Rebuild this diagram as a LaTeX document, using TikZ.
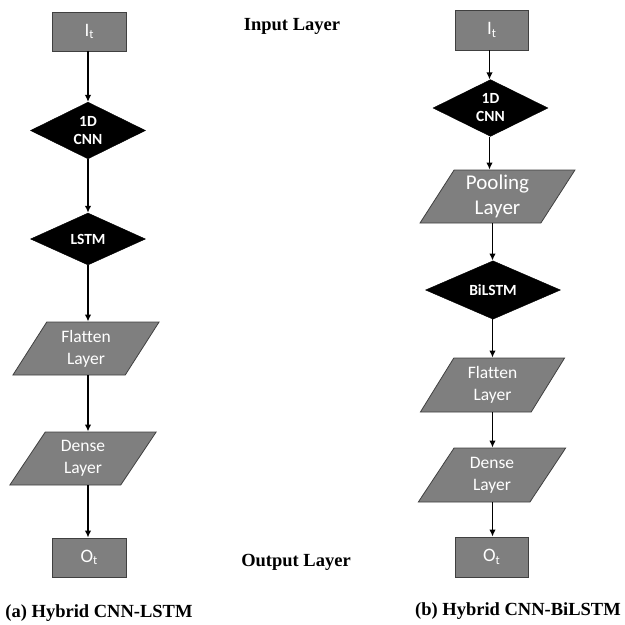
\documentclass[tikz,border=0pt]{standalone}
\usepackage{fontspec}
\setmainfont{Liberation Serif}
\newfontfamily\calibri[Ligatures=NoCommon]{Carlito}
\usetikzlibrary{shapes.geometric,arrows.meta}
\definecolor{boxgray}{HTML}{7F7F7F}
\definecolor{edgegray}{HTML}{404040}
\newcommand{\subt}{\raisebox{-2.5pt}{\fontsize{12.5}{12.5}\selectfont t}}
\begin{document}
\begin{tikzpicture}[x=1pt,y=-1pt,
  iobox/.style={rectangle, draw=edgegray, fill=boxgray, line width=0.8pt,
    minimum width=74pt, minimum height=39pt, inner sep=0pt, text=white,
    font=\calibri\fontsize{19}{22}\selectfont},
  dia/.style={diamond, draw=black, fill=black, minimum width=115pt,
    minimum height=52pt, inner sep=0pt, text=white, align=center,
    font=\calibri\bfseries\fontsize{15.5}{18}\selectfont},
  para/.style={trapezium, trapezium left angle=60, trapezium right angle=120,
    trapezium stretches=true, draw=edgegray, fill=boxgray, line width=0.8pt,
    minimum width=147pt, minimum height=53pt, inner sep=0pt, text=white,
    align=center, font=\calibri\fontsize{17.5}{22}\selectfont},
  arr/.style={line width=1.7pt, -{Latex[length=7pt,width=6.5pt]}},
  lbl/.style={inner sep=0pt, font=\bfseries\fontsize{18.5}{22}\selectfont}
]
\useasboundingbox (0,0) rectangle (625,625);
% axes for vertical connectors
\coordinate (axL) at (88,0);
\coordinate (axRa) at (489.5,0);
\coordinate (axRb) at (492.5,0);

% left column
\node[iobox] (inL) at (89,31.5) {I\subt};
\node[dia] (cnnL) at (88,130.5) {1D\\CNN};
\node[dia] (lstmL) at (88,239) {LSTM};
\node[para] (flatL) at (86,348.5) {Flatten\\Layer};
\node[para] (denseL) at (83,458.5) {Dense\\Layer};
\node[iobox] (outL) at (89,557.5) {O\subt};

% right column
\node[iobox, minimum width=73pt, minimum height=40pt] (inR) at (491.5,30) {I\subt};
\node[dia, minimum height=50pt] (cnnR) at (490.5,108) {1D\\CNN};
\node[para, minimum width=155pt, font=\calibri\fontsize{21}{25}\selectfont] (poolR) at (497.5,196.5) {Pooling\\Layer};
\node[dia, minimum width=135pt, minimum height=48pt] (bilR) at (493,290) {BiLSTM};
\node[para, minimum width=145pt, minimum height=54pt] (flatR) at (492.5,385) {Flatten\\Layer};
\node[para, minimum width=148pt, minimum height=54pt] (denseR) at (492,475) {Dense\\Layer};
\node[iobox, minimum width=73pt, minimum height=40pt] (outR) at (491.5,557) {O\subt};

% labels
\node[lbl] (inlab) at (292,26) {Input Layer};
\node[lbl] (outlab) at (296,562) {Output Layer};
\node[lbl] (capa) at (99,613) {(a) Hybrid CNN-LSTM};
\node[lbl] (capb) at (518,611) {(b) Hybrid CNN-BiLSTM};

% connectors left
\draw[arr] (axL |- inL.south) -- (axL |- cnnL.north);
\draw[arr] (axL |- cnnL.south) -- (axL |- lstmL.north);
\draw[arr] (axL |- lstmL.south) -- (axL |- flatL.north);
\draw[arr] (axL |- flatL.south) -- (axL |- denseL.north);
\draw[arr] (axL |- denseL.south) -- (axL |- outL.north);

% connectors right
\draw[arr] (axRa |- inR.south) -- (axRa |- cnnR.north);
\draw[arr] (axRa |- cnnR.south) -- (axRa |- poolR.north);
\draw[arr] (axRb |- poolR.south) -- (axRb |- bilR.north);
\draw[arr] (axRb |- bilR.south) -- (axRb |- flatR.north);
\draw[arr] (axRb |- flatR.south) -- (axRb |- denseR.north);
\draw[arr] (axRb |- denseR.south) -- (axRb |- outR.north);
\end{tikzpicture}
\end{document}
